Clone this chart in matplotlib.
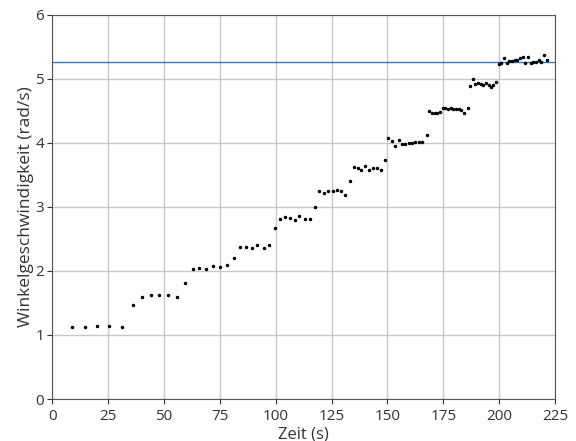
import matplotlib
matplotlib.use("Agg")
import matplotlib.pyplot as plt

plt.rcParams['font.family'] = ['Open Sans', 'DejaVu Sans']

zeit = [8.9, 14.4, 19.9, 25.4, 31.0,
        35.9, 40.1, 44.0, 47.8, 51.7, 55.6, 59.3,
        62.8, 65.7, 68.9, 72.0, 75.0, 78.1, 81.1,
        83.8, 86.5, 89.2, 91.7, 94.6, 97.1, 99.5,
        101.9, 104.1, 106.4, 108.5, 110.5, 112.9, 115.2, 117.4,
        119.5, 121.4, 123.5, 125.5, 127.3, 129.2, 131.1, 133.1,
        134.9, 136.7, 138.3, 140.1, 141.7, 143.5, 145.2, 147.0, 148.9,
        150.4, 151.9, 153.5, 155.2, 156.6, 158.0, 159.5, 161.0, 162.5, 164.0, 165.6, 167.7,
        168.7, 170.1, 171.2, 172.3, 173.5, 174.7, 175.9, 177.1, 178.3, 179.5, 180.7, 181.9, 183.1, 184.3, 185.9,
        187.0, 188.2, 189.3, 190.5, 191.7, 192.9, 194.1, 195.3, 196.5, 197.4, 198.6,
        199.9, 201.0, 202.3, 203.4, 204.6, 205.8, 207.0, 208.2, 209.4, 210.6, 211.7, 212.9,
        214.1, 215.3, 216.5, 217.7, 218.9, 220.1, 221.3]

omega = [1.13, 1.13, 1.14, 1.14, 1.13,
         1.46, 1.60, 1.62, 1.63, 1.62, 1.60, 1.81,
         2.03, 2.05, 2.03, 2.07, 2.06, 2.10, 2.20,
         2.38, 2.38, 2.36, 2.40, 2.35, 2.40, 2.67,
         2.81, 2.84, 2.82, 2.80, 2.85, 2.81, 2.81, 2.99,
         3.25, 3.22, 3.24, 3.24, 3.27, 3.25, 3.19, 3.41,
         3.62, 3.61, 3.57, 3.64, 3.58, 3.60, 3.61, 3.58, 3.73,
         4.07, 4.03, 3.95, 4.05, 3.98, 3.98, 4.00, 4.00, 4.01, 4.01, 4.02, 4.12,
         4.50, 4.46, 4.47, 4.47, 4.48, 4.55, 4.55, 4.52, 4.54, 4.53, 4.52, 4.53, 4.51, 4.47, 4.55,
         4.88, 4.99, 4.92, 4.94, 4.92, 4.90, 4.94, 4.91, 4.87, 4.90, 4.95,
         5.23, 5.24, 5.33, 5.25, 5.27, 5.28, 5.29, 5.30, 5.33, 5.34, 5.24, 5.34,
         5.24, 5.26, 5.26, 5.29, 5.26, 5.37, 5.29]

grenzwert = 5.26

x_ticks = [0, 25, 50, 75, 100, 125, 150, 175, 200, 225]
y_ticks = [0, 1, 2, 3, 4, 5, 6]

fig = plt.figure(figsize=(5.76, 4.41), dpi=100)
ax = fig.add_axes([0.0911, 0.0952, 0.8724, 0.8715])

ax.plot(zeit, omega, '.', color='black', markersize=3, zorder=3)
ax.axhline(grenzwert, color='#3f72c0', linewidth=1.0, zorder=2)

ax.set_xlim(0, 225)
ax.set_ylim(0, 6)
ax.set_xticks(x_ticks)
ax.set_yticks(y_ticks)
ax.grid(True, color='#c8c8c8', linewidth=1.0)
ax.set_axisbelow(True)
for s in ax.spines.values():
    s.set_color('#555555')
ax.tick_params(colors='#333333', labelsize=11, pad=2.5)
ax.tick_params(axis='x', pad=4)
ax.set_xlabel('Zeit (s)', fontsize=12, color='#333333', labelpad=1.5)
ax.set_ylabel('Winkelgeschwindigkeit (rad/s)', fontsize=12.5, color='#333333', labelpad=1)

fig.savefig('out.png', dpi=100)
